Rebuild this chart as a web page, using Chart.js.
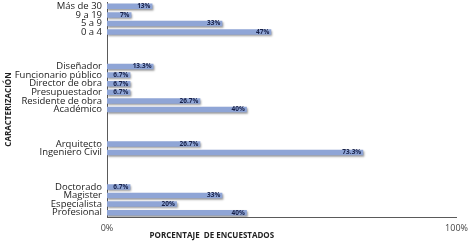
<!DOCTYPE html>
<html>
<head>
<meta charset="utf-8">
<script src="https://cdn.jsdelivr.net/npm/chart.js@4"></script>
<style>
  body { margin: 0; background: #fff; }
  #wrap { width: 474px; height: 243px; }
</style>
</head>
<body>
<div id="wrap"><canvas id="chart"></canvas></div>
<script>
// groups of the survey, top to bottom
const expLabels = ['Más de 30', '9 a 19', '5 a 9', '0 a 4'];
const expValues = [13, 7, 33, 47];
const roleLabels = ['Diseñador', 'Funcionario público', 'Director de obra', 'Presupuestador', 'Residente de obra', 'Académico'];
const roleValues = [13.3, 6.7, 6.7, 6.7, 26.7, 40];
const profLabels = ['Arquitecto', 'Ingeniero Civil'];
const profValues = [26.7, 73.3];
const studyLabels = ['Doctorado', 'Magister', 'Especialista', 'Profesional'];
const studyValues = [6.7, 33, 20, 40];
const xTicks = [0, 100];

// join groups with 3 empty rows between them
const groups = [[expLabels, expValues], [roleLabels, roleValues], [profLabels, profValues], [studyLabels, studyValues]];
const labels = [];
const values = [];
groups.forEach((g, i) => {
  if (i > 0) {
    for (let k = 0; k < 3; k++) { labels.push(''); values.push(null); }
  }
  labels.push(...g[0]);
  values.push(...g[1]);
});

const barShadow = {
  id: 'barShadow',
  beforeDatasetsDraw(chart) {
    const c = chart.ctx;
    c.save();
    c.shadowColor = 'rgba(0,0,0,0.4)';
    c.shadowOffsetX = 1;
    c.shadowOffsetY = 1.5;
    c.shadowBlur = 2;
  },
  afterDatasetsDraw(chart) {
    chart.ctx.restore();
    // value labels at the bar ends
    const c = chart.ctx;
    const meta = chart.getDatasetMeta(0);
    c.save();
    c.font = 'bold 6.5px "Open Sans"';
    c.fillStyle = '#17214a';
    c.textAlign = 'right';
    c.textBaseline = 'middle';
    meta.data.forEach((bar, i) => {
      const v = values[i];
      if (v == null) return;
      c.fillText(v + '%', bar.x - 2, bar.y);
    });
    c.restore();
  }
};

const xTitle = {
  id: 'xTitle',
  afterDraw(chart) {
    const c = chart.ctx;
    const a = chart.chartArea;
    c.save();
    c.font = 'bold 8px "Open Sans"';
    c.fillStyle = '#222';
    c.textAlign = 'center';
    c.textBaseline = 'middle';
    c.fillText('PORCENTAJE  DE ENCUESTADOS', a.left + (a.right - a.left) * 0.3, 236);
    c.restore();
  }
};

new Chart(document.querySelector('#chart'), {
  type: 'bar',
  data: {
    labels: labels,
    datasets: [{
      data: values,
      backgroundColor: '#8fa5d6',
      barPercentage: 0.64,
      categoryPercentage: 1
    }]
  },
  options: {
    indexAxis: 'y',
    responsive: true,
    maintainAspectRatio: false,
    animation: false,
    layout: { padding: { left: 4, right: 13, top: 2, bottom: 0 } },
    plugins: { legend: { display: false }, tooltip: { enabled: false } },
    scales: {
      x: {
        min: 0,
        max: 100,
        afterBuildTicks: (s) => { s.ticks = xTicks.map(v => ({ value: v })); },
        afterFit: (s) => { s.height = 26; },
        grid: { display: false, drawTicks: false },
        border: { display: true, color: '#5a5a5a', width: 1 },
        ticks: {
          padding: 6,
          color: '#444',
          font: { family: 'Open Sans', size: 9 },
          callback: (v) => v + '%'
        }
      },
      y: {
        afterFit: (s) => { s.width = 103; s.paddingTop = 0; s.paddingBottom = 0; },
        grid: { display: false, drawTicks: false },
        border: { display: true, color: '#5a5a5a', width: 1 },
        ticks: {
          autoSkip: false,
          padding: 5,
          color: '#222',
          font: { family: 'Open Sans', size: 9.5 }
        },
        title: {
          display: true,
          text: 'CARACTERIZACIÓN',
          color: '#222',
          padding: 0,
          font: { family: 'Open Sans', size: 8, weight: 'bold' }
        }
      }
    }
  },
  plugins: [barShadow, xTitle]
});
</script>
</body>
</html>
